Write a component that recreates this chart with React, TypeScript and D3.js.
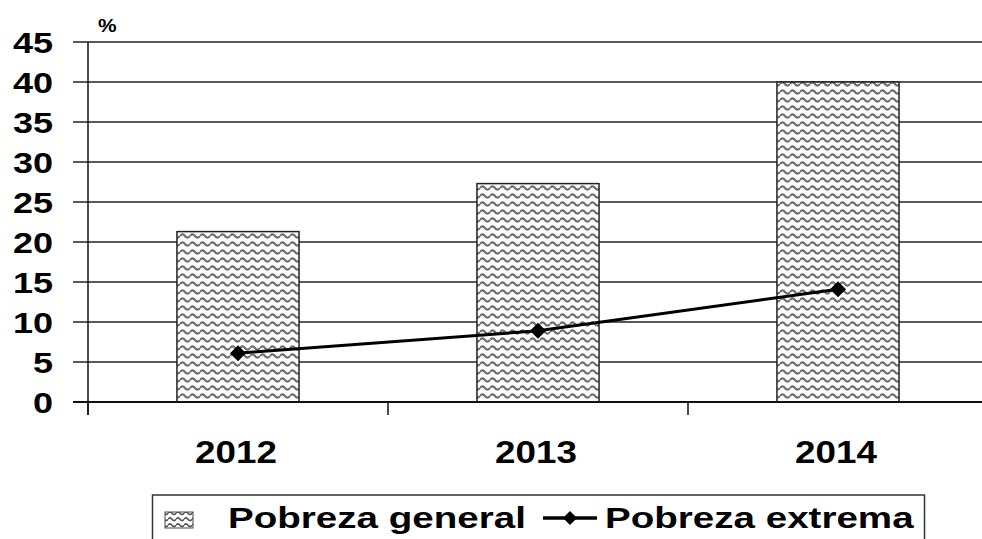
import React from 'react';
import * as d3 from 'd3';

const years = ['2012', '2013', '2014'];
const pobrezaGeneral = [21.3, 27.3, 40.0];
const pobrezaExtrema = [6.1, 8.9, 14.1];
const yTicks = [0, 5, 10, 15, 20, 25, 30, 35, 40, 45];

const W = 982, H = 539;
const margin = { top: 42, right: -6, bottom: 137, left: 88 };

export default function App() {
  const x = d3.scaleBand<string>()
    .domain(years)
    .range([margin.left, W - margin.right])
    .paddingInner(0.593)
    .paddingOuter(0.2965);
  const y = d3.scaleLinear().domain([0, 45]).range([H - margin.bottom, margin.top]);
  const step = x.step();
  const cx = (d: string) => (x(d) as number) + x.bandwidth() / 2;

  const line = d3.line<number>()
    .x((_, i) => cx(years[i]))
    .y(d => y(d));

  // wavy pattern path, one tile
  const wave = 'M0,4 Q2.5,0.8 5,4 T10,4';
  const font = 'Liberation Sans, Arial, sans-serif';
  const textStyle = (size: number) => ({ fontFamily: font, fontWeight: 700, fontSize: size });

  const diamond = (px: number, py: number, s: number) =>
    `M${px},${py - s} L${px + s},${py} L${px},${py + s} L${px - s},${py} Z`;

  const xTickPos = [margin.left, ...years.map((d, i) => margin.left + step * (i + 1))];

  return (
    <svg width={W} height={H} style={{ position: 'absolute', left: 0, top: 0, background: '#fff' }}>
      <defs>
        <pattern id="waves" width="10" height="8" patternUnits="userSpaceOnUse">
          <rect width="10" height="8" fill="#fff" />
          <path d={wave} fill="none" stroke="#6e6e6e" strokeWidth={2.2} />
        </pattern>
        <pattern id="wavesSmall" width="8" height="6" patternUnits="userSpaceOnUse">
          <rect width="8" height="6" fill="#fff" />
          <path d="M0,3.2 Q2,0.6 4,3.2 T8,3.2" fill="none" stroke="#555" strokeWidth={1.6} />
        </pattern>
      </defs>

      {/* gridlines */}
      {yTicks.map(t => (
        <line key={'g' + t} x1={73} x2={W} y1={y(t)} y2={y(t)} stroke="#222" strokeWidth={1.5} />
      ))}

      {/* bars */}
      {years.map((d, i) => (
        <rect key={'b' + d} x={x(d)} y={y(pobrezaGeneral[i])} width={x.bandwidth()}
          height={y(0) - y(pobrezaGeneral[i])} fill="url(#waves)" stroke="#222" strokeWidth={1.5} />
      ))}

      {/* axes */}
      <line x1={margin.left} x2={margin.left} y1={y(45)} y2={y(0) + 13} stroke="#111" strokeWidth={1.5} />
      <line x1={73} x2={W} y1={y(0)} y2={y(0)} stroke="#111" strokeWidth={1.8} />
      {xTickPos.map((p, i) => (
        <line key={'xt' + i} x1={p} x2={p} y1={y(0)} y2={y(0) + 13} stroke="#111" strokeWidth={1.5} />
      ))}

      {/* y tick labels */}
      {yTicks.map(t => (
        <text key={'yl' + t} transform={`translate(53,${y(t) + 11}) scale(1.2,1)`} textAnchor="end"
          style={textStyle(30)} fill="#000">{t}</text>
      ))}
      <text transform="translate(98,32) scale(1.1,1)" style={textStyle(19)} fill="#000">%</text>

      {/* x labels */}
      {years.map(d => (
        <text key={'xl' + d} transform={`translate(${cx(d) - 2},463) scale(1.15,1)`} textAnchor="middle"
          style={textStyle(32)} fill="#000">{d}</text>
      ))}

      {/* line series */}
      <path d={line(pobrezaExtrema) || ''} fill="none" stroke="#000" strokeWidth={3} />
      {pobrezaExtrema.map((v, i) => (
        <path key={'m' + i} d={diamond(cx(years[i]), y(v), 8)} fill="#000" />
      ))}

      {/* legend */}
      <rect x={152.5} y={495} width={772} height={60} fill="#fff" stroke="#333" strokeWidth={1.5} />
      <rect x={165} y={512} width={28} height={16} fill="url(#wavesSmall)" stroke="#444" strokeWidth={1} />
      <text transform="translate(228,528) scale(1.33,1)" style={textStyle(29)} fill="#000">Pobreza general</text>
      <line x1={543} x2={597} y1={518} y2={518} stroke="#000" strokeWidth={3.5} />
      <path d={diamond(570, 518, 7)} fill="#000" />
      <text transform="translate(605,528) scale(1.33,1)" style={textStyle(29)} fill="#000">Pobreza extrema</text>
    </svg>
  );
}
